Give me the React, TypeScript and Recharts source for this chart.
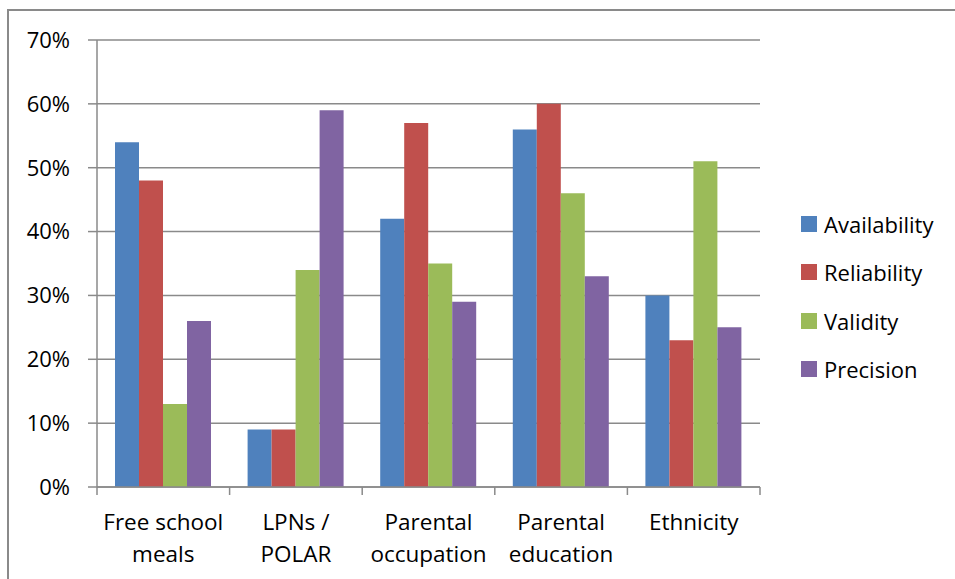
import React from "react";
import {
  Bar,
  BarChart,
  CartesianGrid,
  Legend,
  XAxis,
  YAxis,
} from "recharts";

const categories = [
  "Free school\nmeals",
  "LPNs /\nPOLAR",
  "Parental\noccupation",
  "Parental\neducation",
  "Ethnicity",
];
const availability = [54, 9, 42, 56, 30];
const reliability = [48, 9, 57, 60, 23];
const validity = [13, 34, 35, 46, 51];
const precision = [26, 59, 29, 33, 25];
const yTicks = [0, 10, 20, 30, 40, 50, 60, 70];

const seriesNames = ["Availability", "Reliability", "Validity", "Precision"];
const colors = ["#4F81BD", "#C0504D", "#9BBB59", "#8064A2"];

const data = categories.map((name, i) => ({
  name,
  Availability: availability[i],
  Reliability: reliability[i],
  Validity: validity[i],
  Precision: precision[i],
}));

const FONT = "'Open Sans', 'Noto Sans', sans-serif";
const GRID = "#8a8a8a";
const WIDTH = 955;
const HEIGHT = 579;
const MARGIN = { top: 40, right: 195, left: 37, bottom: 32 };
const Y_AXIS_WIDTH = 60;
const PLOT_WIDTH = WIDTH - MARGIN.left - MARGIN.right - Y_AXIS_WIDTH;
const BAND = PLOT_WIDTH / categories.length;

function CategoryTick(props: any) {
  const { x, y, payload, index } = props;
  const lines = String(payload.value).split("\n");
  const isLast = index === categories.length - 1;
  return (
    <g>
      <line x1={x - BAND / 2} x2={x - BAND / 2} y1={y} y2={y + 8} stroke={GRID} strokeWidth={1.5} />
      {isLast && (
        <line x1={x + BAND / 2} x2={x + BAND / 2} y1={y} y2={y + 8} stroke={GRID} strokeWidth={1.5} />
      )}
      {lines.map((line, i) => (
        <text
          key={i}
          x={x}
          y={y + 43 + i * 31.5}
          textAnchor="middle"
          fill="#000"
          fontSize={22.5}
          fontFamily={FONT}
        >
          {line}
        </text>
      ))}
    </g>
  );
}

function LegendContent() {
  return (
    <div style={{ fontFamily: FONT, fontSize: 22, color: "#000" }}>
      {seriesNames.map((name, i) => (
        <div
          key={name}
          style={{ display: "flex", alignItems: "center", height: 48.3 }}
        >
          <span
            style={{
              width: 16,
              height: 16,
              background: colors[i],
              display: "inline-block",
              marginRight: 7,
            }}
          />
          <span>{name}</span>
        </div>
      ))}
    </div>
  );
}

export default function App() {
  return (
    <div
      style={{
        position: "absolute",
        left: 0,
        top: 0,
        width: WIDTH,
        height: HEIGHT,
        overflow: "hidden",
        background: "#fff",
      }}
    >
      <div
        style={{
          position: "absolute",
          left: 7,
          top: 9,
          width: WIDTH,
          height: HEIGHT,
          borderLeft: `2px solid ${GRID}`,
          borderTop: `2px solid ${GRID}`,
        }}
      />
      <div style={{ position: "absolute", left: 0, top: 0 }}>
        <BarChart
          width={WIDTH}
          height={HEIGHT}
          data={data}
          margin={MARGIN}
          barSize={24}
          barGap={0}
        >
          <CartesianGrid vertical={false} stroke={GRID} strokeWidth={1.5} />
          <XAxis
            dataKey="name"
            height={60}
            axisLine={{ stroke: GRID, strokeWidth: 1.5 }}
            tickLine={false}
            tickSize={0}
            tickMargin={0}
            interval={0}
            tick={<CategoryTick />}
          />
          <YAxis
            width={Y_AXIS_WIDTH}
            domain={[0, 70]}
            ticks={yTicks}
            interval={0}
            tickFormatter={(v) => `${v}%`}
            axisLine={{ stroke: GRID, strokeWidth: 1.5 }}
            tickLine={{ stroke: GRID, strokeWidth: 1.5 }}
            tickSize={9}
            tickMargin={18}
            tick={{ fill: "#000", fontSize: 22, fontFamily: FONT }}
          />
          <Legend
            layout="vertical"
            align="center"
            verticalAlign="middle"
            content={<LegendContent />}
            wrapperStyle={{ left: 801, top: 200, width: 154 }}
          />
          {seriesNames.map((name, i) => (
            <Bar
              key={name}
              dataKey={name}
              fill={colors[i]}
              isAnimationActive={false}
            />
          ))}
        </BarChart>
      </div>
    </div>
  );
}
